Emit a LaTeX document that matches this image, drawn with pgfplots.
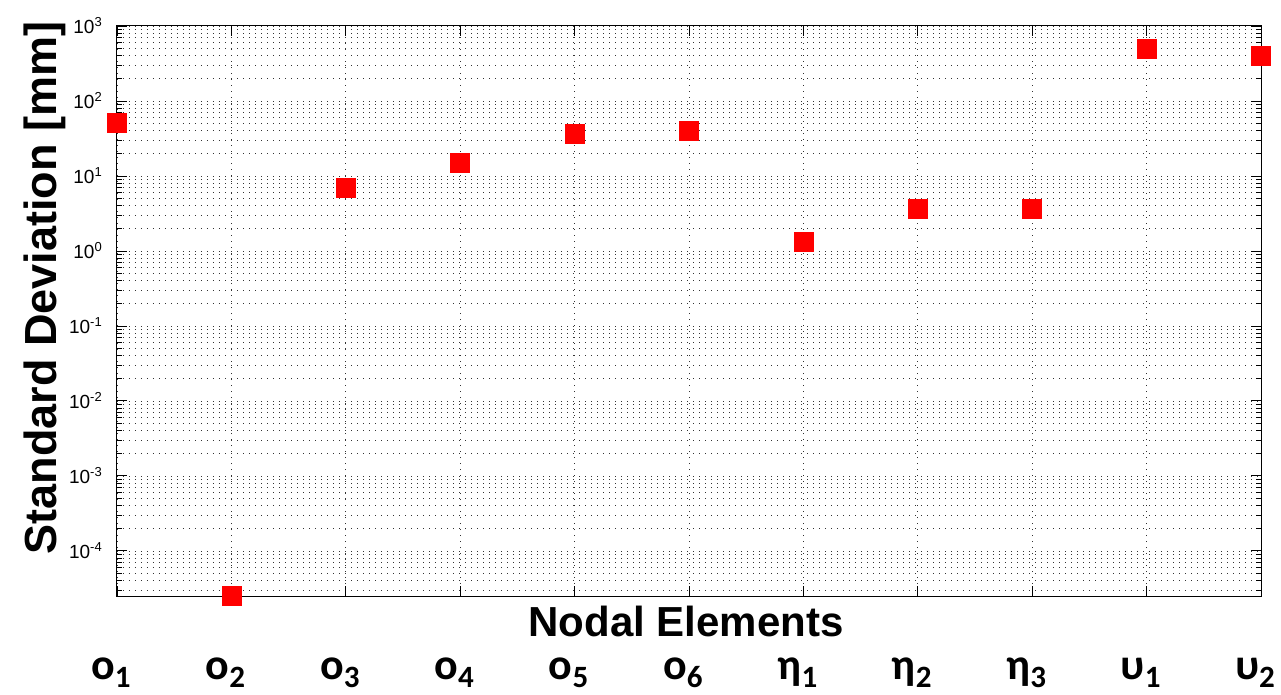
\documentclass[border=0pt]{standalone}
\usepackage{fontspec}
\setmainfont{Liberation Sans}
\newfontfamily\carl{Carlito}
\usepackage{pgfplots}
\pgfplotsset{compat=1.18}

\newcommand\tp[1]{10\raisebox{7pt}{\fontsize{13}{13}\selectfont #1}}
\newcommand\xl[2]{\raisebox{0pt}[24pt][0pt]{\carl\bfseries #1\raisebox{-8pt}[0pt][0pt]{\fontsize{31}{31}\selectfont #2}}}

\begin{document}
\begin{tikzpicture}
\begin{axis}[
  at={(0pt,0pt)}, anchor=south west,
  scale only axis, width=1144pt, height=570pt,
  xmin=0, xmax=10,
  ymode=log, ymin=2.5e-5, ymax=1000,
  xtick={0,1,2,3,4,5,6,7,8,9,10},
  xticklabels={\xl{ο}{1},\xl{ο}{2},\xl{ο}{3},\xl{ο}{4},\xl{ο}{5},\xl{ο}{6},\xl{η}{1},\xl{η}{2},\xl{η}{3},\xl{υ}{1},\xl{υ}{2}},
  xticklabel style={font=\fontsize{44}{44}\selectfont, anchor=base, yshift=-83pt, xshift=-6pt, inner sep=0pt},
  ytick={1e-4,1e-3,1e-2,1e-1,1,10,100,1000},
  yticklabels={\tp{-4},\tp{-3},\tp{-2},\tp{-1},\tp{0},\tp{1},\tp{2},\tp{3}},
  yticklabel style={font=\fontsize{19}{19}\selectfont, anchor=east, inner sep=0pt, xshift=-15pt},
  minor ytick={3e-5,4e-5,5e-5,6e-5,7e-5,8e-5,9e-5,
    2e-4,3e-4,4e-4,5e-4,6e-4,7e-4,8e-4,9e-4,
    2e-3,3e-3,4e-3,5e-3,6e-3,7e-3,8e-3,9e-3,
    2e-2,3e-2,4e-2,5e-2,6e-2,7e-2,8e-2,9e-2,
    0.2,0.3,0.4,0.5,0.6,0.7,0.8,0.9,
    2,3,4,5,6,7,8,9,
    20,30,40,50,60,70,80,90,
    200,300,400,500,600,700,800,900},
  xmajorgrids, ymajorgrids, yminorgrids,
  major grid style={black!80, line width=0.7pt, dash pattern=on 0.7pt off 5.3pt},
  minor grid style={black!80, line width=0.7pt, dash pattern=on 0.7pt off 5.3pt},
  tick align=inside,
  major tick length=10pt, minor tick length=5pt,
  tick style={black, line width=0.8pt},
  axis line style={black, line width=1pt},
  xlabel={Nodal Elements},
  xlabel style={font=\bfseries\fontsize{42}{42}\selectfont, at={(axis description cs:0.4974,0)}, anchor=base, yshift=-40pt, inner sep=0pt},
  ylabel={Standard Deviation [mm]},
  ylabel style={font=\bfseries\fontsize{45}{45}\selectfont, at={(axis description cs:-0.0629,0.5404)}, rotate=0, anchor=center, inner sep=0pt},
  clip=false,
]
\addplot[only marks, mark=square*, mark size=9.5pt, mark options={fill=red, draw=red, line width=0.5pt}] coordinates {
  (0,51) (1,2.5e-5) (2,6.9) (3,14.9) (4,36) (5,40) (6,1.32) (7,3.6) (8,3.6) (9,493) (10,398)
};
\end{axis}
\pgfresetboundingbox
\path[use as bounding box] (-117pt,-99pt) rectangle (1164pt,596pt);
\end{tikzpicture}
\end{document}
